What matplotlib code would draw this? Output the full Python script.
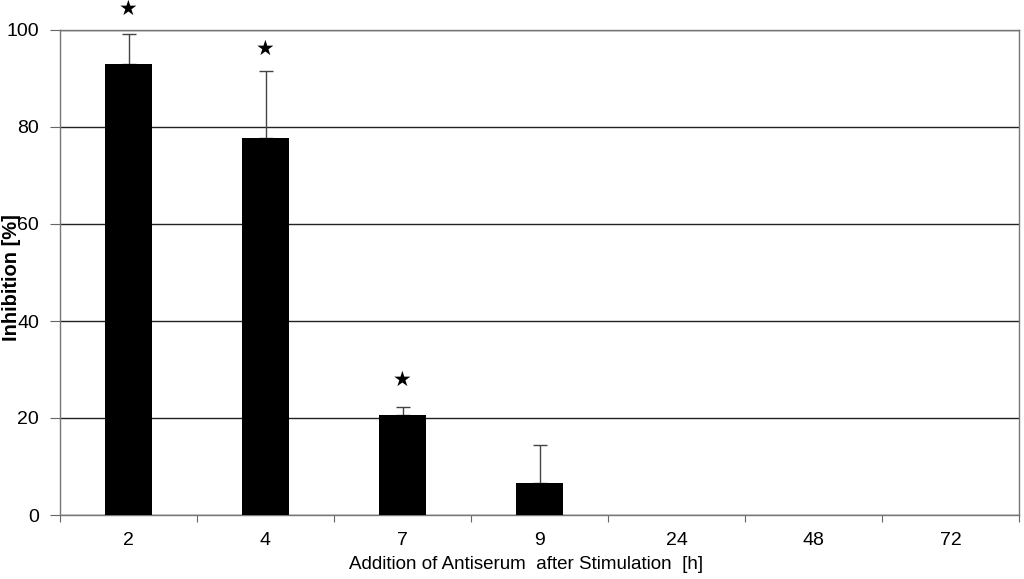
import matplotlib
matplotlib.use("Agg")
import matplotlib.pyplot as plt
import numpy as np

categories = ["2", "4", "7", "9", "24", "48", "72"]
inhibition = [93.0, 77.7, 20.7, 6.6, 0, 0, 0]
error_up = [6.2, 13.8, 1.6, 7.9, 0, 0, 0]
star_y = [104.3, 96.0, 27.9, None, None, None, None]

plt.rcParams['font.family'] = ['Liberation Sans', 'DejaVu Sans']

fig = plt.figure(figsize=(10.24, 5.79), dpi=100)
ax = fig.add_axes([60/1024, 64/579, 959/1024, 485/579])

x = np.arange(len(categories))
ax.bar(x, inhibition, width=0.35, color='black', zorder=3)
vals = np.array(inhibition)
errs = np.array(error_up)
mask = errs > 0
ax.errorbar(x[mask], vals[mask], yerr=[np.zeros(mask.sum()), errs[mask]],
            fmt='none', ecolor='#444444', elinewidth=1, capsize=5, capthick=1, zorder=2)

for xi, sy in zip(x, star_y):
    if sy is not None:
        ax.text(xi, sy, "★", ha='center', va='center', fontsize=15,
                family=['DejaVu Sans'], clip_on=False)

ax.set_xlim(-0.5, len(categories) - 0.5)
ax.set_ylim(0, 100)
ax.set_yticks(np.arange(0, 101, 20))
ax.yaxis.grid(True, color='#222222', linewidth=1, zorder=0)
ax.set_axisbelow(True)

ax.set_xticks(np.arange(-0.5, len(categories), 1.0))
ax.set_xticklabels([])
ax.set_xticks(x, minor=True)
ax.set_xticklabels(categories, minor=True)
ax.tick_params(axis='x', which='major', length=5, direction='out', color='#666666')
ax.tick_params(axis='x', which='minor', length=0, pad=12, labelsize=14)
ax.tick_params(axis='y', length=7, direction='out', color='#666666', labelsize=14, pad=8)

for s in ax.spines.values():
    s.set_color('#777777')
    s.set_linewidth(1)

ax.set_ylabel("Inhibition [%]", fontsize=14.5, fontweight='bold')
ax.yaxis.set_label_coords(-0.041, 0.49)
ax.set_xlabel("Addition of Antiserum  after Stimulation  [h]", fontsize=13.5)
ax.xaxis.set_label_coords(0.486, -0.084)

fig.savefig("out.png", dpi=100)
